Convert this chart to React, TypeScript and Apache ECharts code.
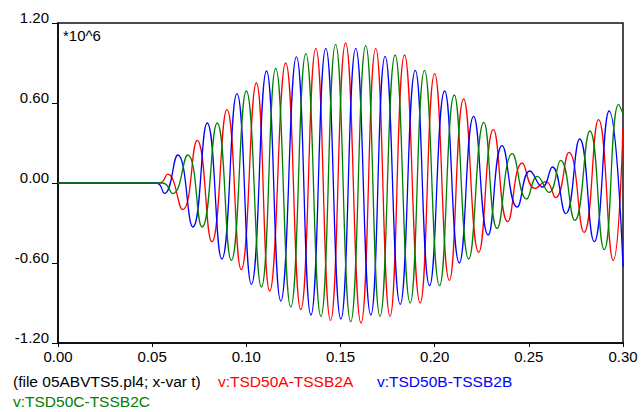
import React, { useEffect, useRef } from "react";
import * as echarts from "echarts";

// Extrema (time in s, voltage in 10^6 units)
const tRed = [0, 0.0538, 0.0582, 0.0662, 0.0739, 0.0817, 0.0897, 0.0973, 0.1053, 0.1124, 0.1209, 0.1289, 0.1369, 0.1447, 0.1527, 0.1609, 0.1687, 0.1763, 0.184, 0.1923, 0.2, 0.2078, 0.2154, 0.2234, 0.2312, 0.2388, 0.2465, 0.2532, 0.259, 0.2642, 0.2713, 0.2793, 0.287, 0.2948, 0.3];
const vRed = [0, 0, 0.066, -0.2, 0.32, -0.44, 0.55, -0.65, 0.75, -0.81, 0.9, -0.95, 1.01, -1.03, 1.05, -1.05, 1.01, -1.0, 0.96, -0.9, 0.82, -0.73, 0.63, -0.52, 0.4, -0.29, 0.15, -0.04, 0.01, -0.11, 0.23, -0.37, 0.475, -0.58, 0.42];

const tBlue = [0, 0.0522, 0.0565, 0.0636, 0.0716, 0.0792, 0.087, 0.095, 0.1027, 0.1107, 0.1183, 0.1266, 0.1343, 0.1422, 0.1502, 0.1581, 0.1661, 0.1737, 0.1817, 0.1897, 0.1973, 0.2053, 0.2131, 0.2207, 0.2284, 0.2358, 0.2438, 0.2506, 0.2572, 0.2625, 0.2696, 0.277, 0.2847, 0.2926, 0.3];
const vBlue = [0, 0, -0.078, 0.21, -0.33, 0.45, -0.57, 0.67, -0.76, 0.84, -0.885, 0.946, -0.99, 1.01, -1.02, 1.01, -0.99, 0.95, -0.91, 0.845, -0.77, 0.69, -0.6, 0.5, -0.39, 0.28, -0.18, 0.09, -0.03, 0.12, -0.23, 0.33, -0.44, 0.54, -0.63];

const tGreen = [0, 0.0555, 0.0609, 0.0689, 0.0765, 0.0845, 0.092, 0.1, 0.108, 0.1156, 0.1236, 0.1316, 0.1396, 0.1474, 0.1554, 0.1634, 0.171, 0.179, 0.187, 0.1946, 0.2026, 0.2104, 0.2181, 0.2261, 0.2332, 0.2412, 0.2488, 0.2545, 0.2607, 0.2669, 0.2744, 0.2824, 0.29, 0.2977, 0.3];
const vGreen = [0, 0, -0.08, 0.21, -0.33, 0.45, -0.58, 0.69, -0.78, 0.86, -0.93, 0.97, -1.0, 1.04, -1.04, 1.03, -1.0, 0.96, -0.9, 0.845, -0.77, 0.66, -0.57, 0.455, -0.34, 0.22, -0.12, 0.05, -0.07, 0.17, -0.28, 0.39, -0.5, 0.59, 0.52];

const seriesNames = ["v:TSD50A-TSSB2A", "v:TSD50B-TSSB2B", "v:TSD50C-TSSB2C"];
const seriesColors = ["#ff0000", "#0000ff", "#008000"];
const fileLabel = "(file 05ABVTS5.pl4; x-var t)";
const scaleLabel = "*10^6";

const FONT = '"Liberation Sans", Arial, sans-serif';

export default function App() {
  const ref = useRef<HTMLDivElement>(null);
  useEffect(() => {
    const chart = echarts.init(ref.current!, null, { renderer: "svg" });
    const pairs = (t: number[], v: number[]) => t.map((x, i) => [x, v[i]]);
    const datasets = [pairs(tRed, vRed), pairs(tBlue, vBlue), pairs(tGreen, vGreen)];
    chart.setOption({
      animation: false,
      backgroundColor: "#ffffff",
      grid: {
        left: 58,
        right: 18,
        top: 23,
        bottom: 69,
        show: true,
        borderColor: "#111",
        borderWidth: 1.5,
        backgroundColor: "transparent",
      },
      xAxis: {
        type: "value",
        min: 0,
        max: 0.3,
        interval: 0.05,
        axisLine: { show: true, onZero: false, lineStyle: { color: "#000", width: 1.5 } },
        axisTick: { show: true, length: 4, lineStyle: { color: "#000", width: 1 } },
        splitLine: { show: false },
        axisLabel: {
          color: "#000",
          fontFamily: FONT,
          fontSize: 15,
          margin: 6,
          formatter: (v: number) => v.toFixed(2),
        },
      },
      yAxis: {
        type: "value",
        min: -1.2,
        max: 1.2,
        interval: 0.6,
        axisLine: { show: true, onZero: false, lineStyle: { color: "#000", width: 1.5 } },
        axisTick: { show: true, length: 6, lineStyle: { color: "#000", width: 1 } },
        splitLine: { show: false },
        axisLabel: {
          color: "#000",
          fontFamily: FONT,
          fontSize: 15,
          margin: 9,
          verticalAlign: "bottom",
          lineHeight: 11,
          formatter: (v: number) => v.toFixed(2),
        },
      },
      series: datasets.map((d, i) => ({
        type: "line",
        name: seriesNames[i],
        data: d,
        smooth: 0.5,
        showSymbol: false,
        symbol: "none",
        lineStyle: { color: seriesColors[i], width: 1.3 },
        itemStyle: { color: seriesColors[i] },
        clip: true,
      })),
      graphic: [
        { type: "text", left: 63, top: 28, style: { text: scaleLabel, fill: "#000", font: `15px ${FONT}` } },
        { type: "text", left: 13, top: 373, style: { text: fileLabel, fill: "#000", font: `15.5px ${FONT}` } },
        { type: "text", left: 218, top: 373, style: { text: seriesNames[0], fill: seriesColors[0], font: `15.5px ${FONT}` } },
        { type: "text", left: 377, top: 373, style: { text: seriesNames[1], fill: seriesColors[1], font: `15.5px ${FONT}` } },
        { type: "text", left: 13, top: 393, style: { text: seriesNames[2], fill: seriesColors[2], font: `15.5px ${FONT}` } },
      ],
    });
    return () => chart.dispose();
  }, []);
  return (
    <div
      ref={ref}
      style={{ position: "absolute", left: 0, top: 0, width: 641, height: 412 }}
    />
  );
}
